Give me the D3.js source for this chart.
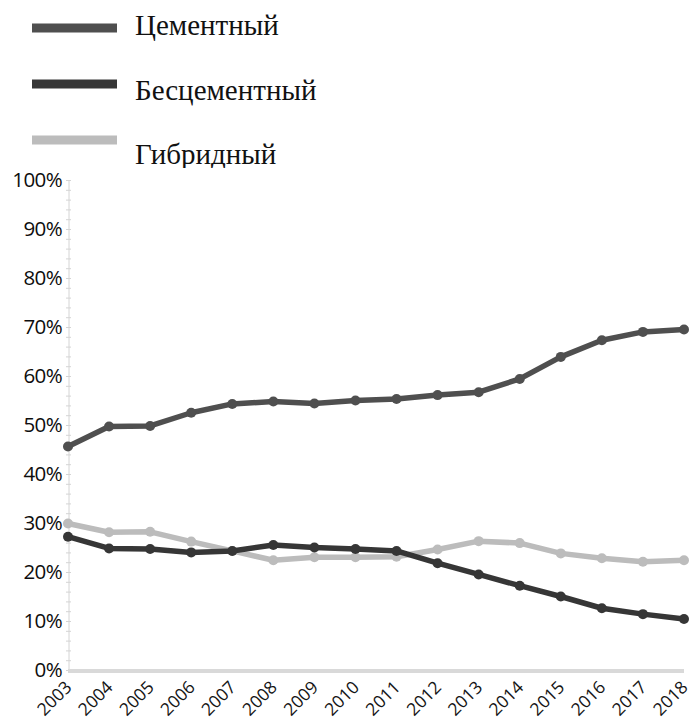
<!DOCTYPE html>
<html>
<head>
<meta charset="utf-8">
<script src="https://cdn.jsdelivr.net/npm/d3@7"></script>
<style>
  html, body { margin: 0; padding: 0; background: #fff; }
  svg { display: block; }
</style>
</head>
<body>
<svg id="chart" width="693" height="721"></svg>
<script>
// Доля типов фиксации по годам, %
const years = ["2003","2004","2005","2006","2007","2008","2009","2010","2011","2012","2013","2014","2015","2016","2017","2018"];
const cemented   = [45.6, 49.7, 49.8, 52.5, 54.3, 54.8, 54.4, 55.0, 55.3, 56.1, 56.7, 59.4, 63.9, 67.3, 69.0, 69.5];
const cementless = [27.2, 24.8, 24.7, 24.0, 24.3, 25.5, 25.0, 24.7, 24.3, 21.8, 19.5, 17.2, 15.0, 12.6, 11.4, 10.4];
const hybrid     = [29.9, 28.1, 28.2, 26.2, 24.3, 22.4, 23.0, 23.0, 23.1, 24.6, 26.3, 25.9, 23.8, 22.8, 22.1, 22.4];
const seriesNames = ["Цементный", "Бесцементный", "Гибридный"];
const yTicks = [0, 10, 20, 30, 40, 50, 60, 70, 80, 90, 100];

const colors = ["#4f4f4f", "#363636", "#bcbcbc"];
const series = [cemented, cementless, hybrid];

const svg = d3.select("#chart");
const plotLeft = 68, plotRight = 684, plotTop = 180, plotBottom = 670;

const x = d3.scalePoint().domain(years).range([plotLeft, plotRight]);
const y = d3.scaleLinear().domain([0, 100]).range([plotBottom, plotTop]);

// Легенда
const legend = svg.append("g");
seriesNames.forEach((name, i) => {
  const cy = 28 + i * 56;
  legend.append("rect")
    .attr("x", 32).attr("y", cy - 4.5).attr("width", 85).attr("height", 9)
    .attr("fill", colors[i]);
  legend.append("text")
    .attr("x", 135).attr("y", 35 + i * 64.5)
    .attr("font-family", "'Liberation Serif', 'Times New Roman', serif")
    .attr("font-size", 29)
    .attr("fill", "#111")
    .text(name);
});

// Область графика перекрывает низ последней подписи легенды
svg.append("rect")
  .attr("x", 0).attr("y", 168).attr("width", 693).attr("height", 553)
  .attr("fill", "#fff");

// Ось Y
const yAxis = svg.append("g").attr("transform", `translate(${plotLeft + 1},0)`);
yAxis.append("line")
  .attr("x1", 0).attr("x2", 0).attr("y1", plotTop).attr("y2", plotBottom)
  .attr("stroke", "#d4d4d4").attr("stroke-width", 1);
yAxis.selectAll("line.minor")
  .data(d3.range(0, 101, 2))
  .join("line")
  .attr("class", "minor")
  .attr("x1", -3).attr("x2", 2)
  .attr("y1", d => y(d) + 0.5).attr("y2", d => y(d) + 0.5)
  .attr("stroke", "#d4d4d4").attr("stroke-width", 1);
yAxis.selectAll("text")
  .data(yTicks)
  .join("text")
  .attr("x", -7).attr("y", d => y(d))
  .attr("dy", "0.36em")
  .attr("text-anchor", "end")
  .attr("font-family", "'Open Sans', 'Noto Sans', sans-serif")
  .attr("font-size", 20.5)
  .attr("letter-spacing", -0.6)
  .attr("fill", "#0d0d0d")
  .text(d => d + "%");

// Нижняя ось
svg.append("line")
  .attr("x1", plotLeft).attr("x2", plotRight).attr("y1", plotBottom + 1).attr("y2", plotBottom + 1)
  .attr("stroke", "#d9d9d9").attr("stroke-width", 4);

svg.append("g").selectAll("text")
  .data(years)
  .join("text")
  .attr("transform", d => `translate(${x(d) + 0.5},${plotBottom + 14}) rotate(-45)`)
  .attr("text-anchor", "end")
  .attr("dy", "0.35em")
  .attr("font-family", "'Open Sans', 'Noto Sans', sans-serif")
  .attr("font-size", 17.5)
  .attr("fill", "#151515")
  .text(d => d);

// Линии серий
const line = d3.line().x((d, i) => x(years[i])).y(d => y(d));
const drawOrder = [2, 1, 0];
drawOrder.forEach(si => {
  const g = svg.append("g");
  g.append("path")
    .datum(series[si])
    .attr("d", line)
    .attr("fill", "none")
    .attr("stroke", colors[si])
    .attr("stroke-width", 5.5)
    .attr("stroke-linejoin", "round");
  g.selectAll("circle")
    .data(series[si])
    .join("circle")
    .attr("cx", (d, i) => x(years[i]))
    .attr("cy", d => y(d))
    .attr("r", 5)
    .attr("fill", colors[si]);
});
</script>
</body>
</html>
